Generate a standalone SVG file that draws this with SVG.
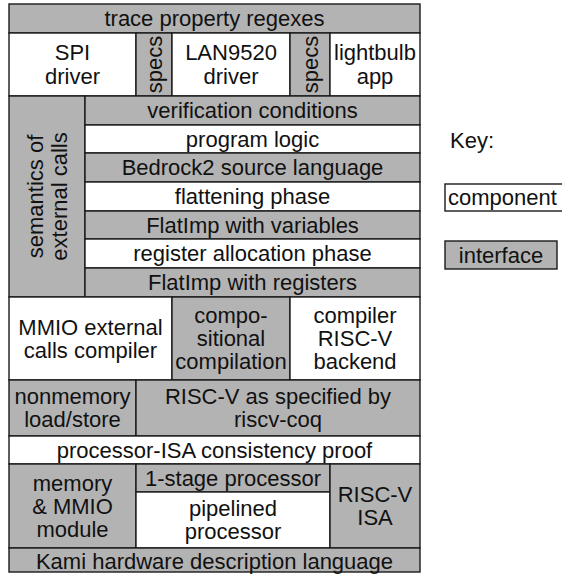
<svg xmlns="http://www.w3.org/2000/svg" width="562" height="575" viewBox="0 0 562 575">
<style>
rect{stroke:#1a1a1a;stroke-width:1.4}
.i{fill:#b3b3b3}
.c{fill:#fff}
text{font-family:"Liberation Sans",Arial,sans-serif;font-size:22px;fill:#111;text-anchor:middle;dominant-baseline:central}
</style>
<rect x="0" y="0" width="562" height="575" fill="#fff" style="stroke:none"/>
<g id="trace"><rect class="i" x="9" y="4" width="411" height="29"/><text x="214.5" y="18.5">trace property regexes</text></g>
<g id="spi"><rect class="c" x="9" y="33" width="127" height="63"/><text x="72.5" y="52.5">SPI</text><text x="72.5" y="76">driver</text></g>
<g id="specs1"><rect class="i" x="136" y="33" width="36" height="63"/><text transform="translate(154,64.5) rotate(-90)">specs</text></g>
<g id="lan"><rect class="c" x="172" y="33" width="118" height="63"/><text x="231" y="52.5">LAN9520</text><text x="231" y="76">driver</text></g>
<g id="specs2"><rect class="i" x="290" y="33" width="40" height="63"/><text transform="translate(310,64.5) rotate(-90)">specs</text></g>
<g id="lightbulb"><rect class="c" x="330" y="33" width="90" height="63"/><text x="375" y="52.5">lightbulb</text><text x="375" y="76">app</text></g>
<g id="semantics"><rect class="i" x="9" y="96" width="76" height="201"/><text transform="translate(47,196.5) rotate(-90)"><tspan x="0" y="-12">semantics of</tspan><tspan x="0" y="12">external calls</tspan></text></g>
<g id="vc"><rect class="i" x="85" y="96" width="335" height="29"/><text x="252.5" y="110.5">verification conditions</text></g>
<g id="logic"><rect class="c" x="85" y="125" width="335" height="28"/><text x="252.5" y="139">program logic</text></g>
<g id="bedrock"><rect class="i" x="85" y="153" width="335" height="29"/><text x="252.5" y="167.5">Bedrock2 source language</text></g>
<g id="flatten"><rect class="c" x="85" y="182" width="335" height="29"/><text x="252.5" y="196.5">flattening phase</text></g>
<g id="flatvars"><rect class="i" x="85" y="211" width="335" height="28"/><text x="252.5" y="225">FlatImp with variables</text></g>
<g id="regalloc"><rect class="c" x="85" y="239" width="335" height="29"/><text x="252.5" y="253.5">register allocation phase</text></g>
<g id="flatregs"><rect class="i" x="85" y="268" width="335" height="29"/><text x="252.5" y="282.5">FlatImp with registers</text></g>
<g id="mmio"><rect class="c" x="9" y="297" width="163" height="83"/><text x="90.5" y="327">MMIO external</text><text x="90.5" y="350">calls compiler</text></g>
<g id="compositional"><rect class="i" x="172" y="297" width="118" height="83"/><text x="231" y="315.5">compo-</text><text x="231" y="338.5">sitional</text><text x="231" y="361.5">compilation</text></g>
<g id="backend"><rect class="c" x="290" y="297" width="130" height="83"/><text x="355" y="315.5">compiler</text><text x="355" y="338.5">RISC-V</text><text x="355" y="361.5">backend</text></g>
<g id="nonmemory"><rect class="i" x="9" y="380" width="127" height="56"/><text x="72.5" y="396.5">nonmemory</text><text x="72.5" y="419.5">load/store</text></g>
<g id="riscvcoq"><rect class="i" x="136" y="380" width="284" height="56"/><text x="278" y="396.5">RISC-V as specified by</text><text x="278" y="419.5">riscv-coq</text></g>
<g id="consistency"><rect class="c" x="9" y="436" width="411" height="28"/><text x="214.5" y="450">processor-ISA consistency proof</text></g>
<g id="memory"><rect class="i" x="9" y="464" width="127" height="84"/><text x="72.5" y="483">memory</text><text x="72.5" y="506">&amp; MMIO</text><text x="72.5" y="529">module</text></g>
<g id="onestage"><rect class="i" x="136" y="464" width="194" height="28"/><text x="233" y="478">1-stage processor</text></g>
<g id="pipelined"><rect class="c" x="136" y="492" width="194" height="56"/><text x="233" y="508.5">pipelined</text><text x="233" y="531.5">processor</text></g>
<g id="isa"><rect class="i" x="330" y="464" width="90" height="84"/><text x="375" y="494.5">RISC-V</text><text x="375" y="517.5">ISA</text></g>
<g id="kami"><rect class="i" x="9" y="548" width="411" height="24"/><text x="214.5" y="561">Kami hardware description language</text></g>
<g id="key"><text x="450" y="140" style="text-anchor:start">Key:</text>
<g id="key-component"><rect class="c" x="445" y="184" width="120" height="27"/><text x="502.5" y="197.5">component</text></g>
<g id="key-interface"><rect class="i" x="445" y="241" width="112" height="28"/><text x="501" y="255">interface</text></g></g>
<g id="connectors"></g>
</svg>
